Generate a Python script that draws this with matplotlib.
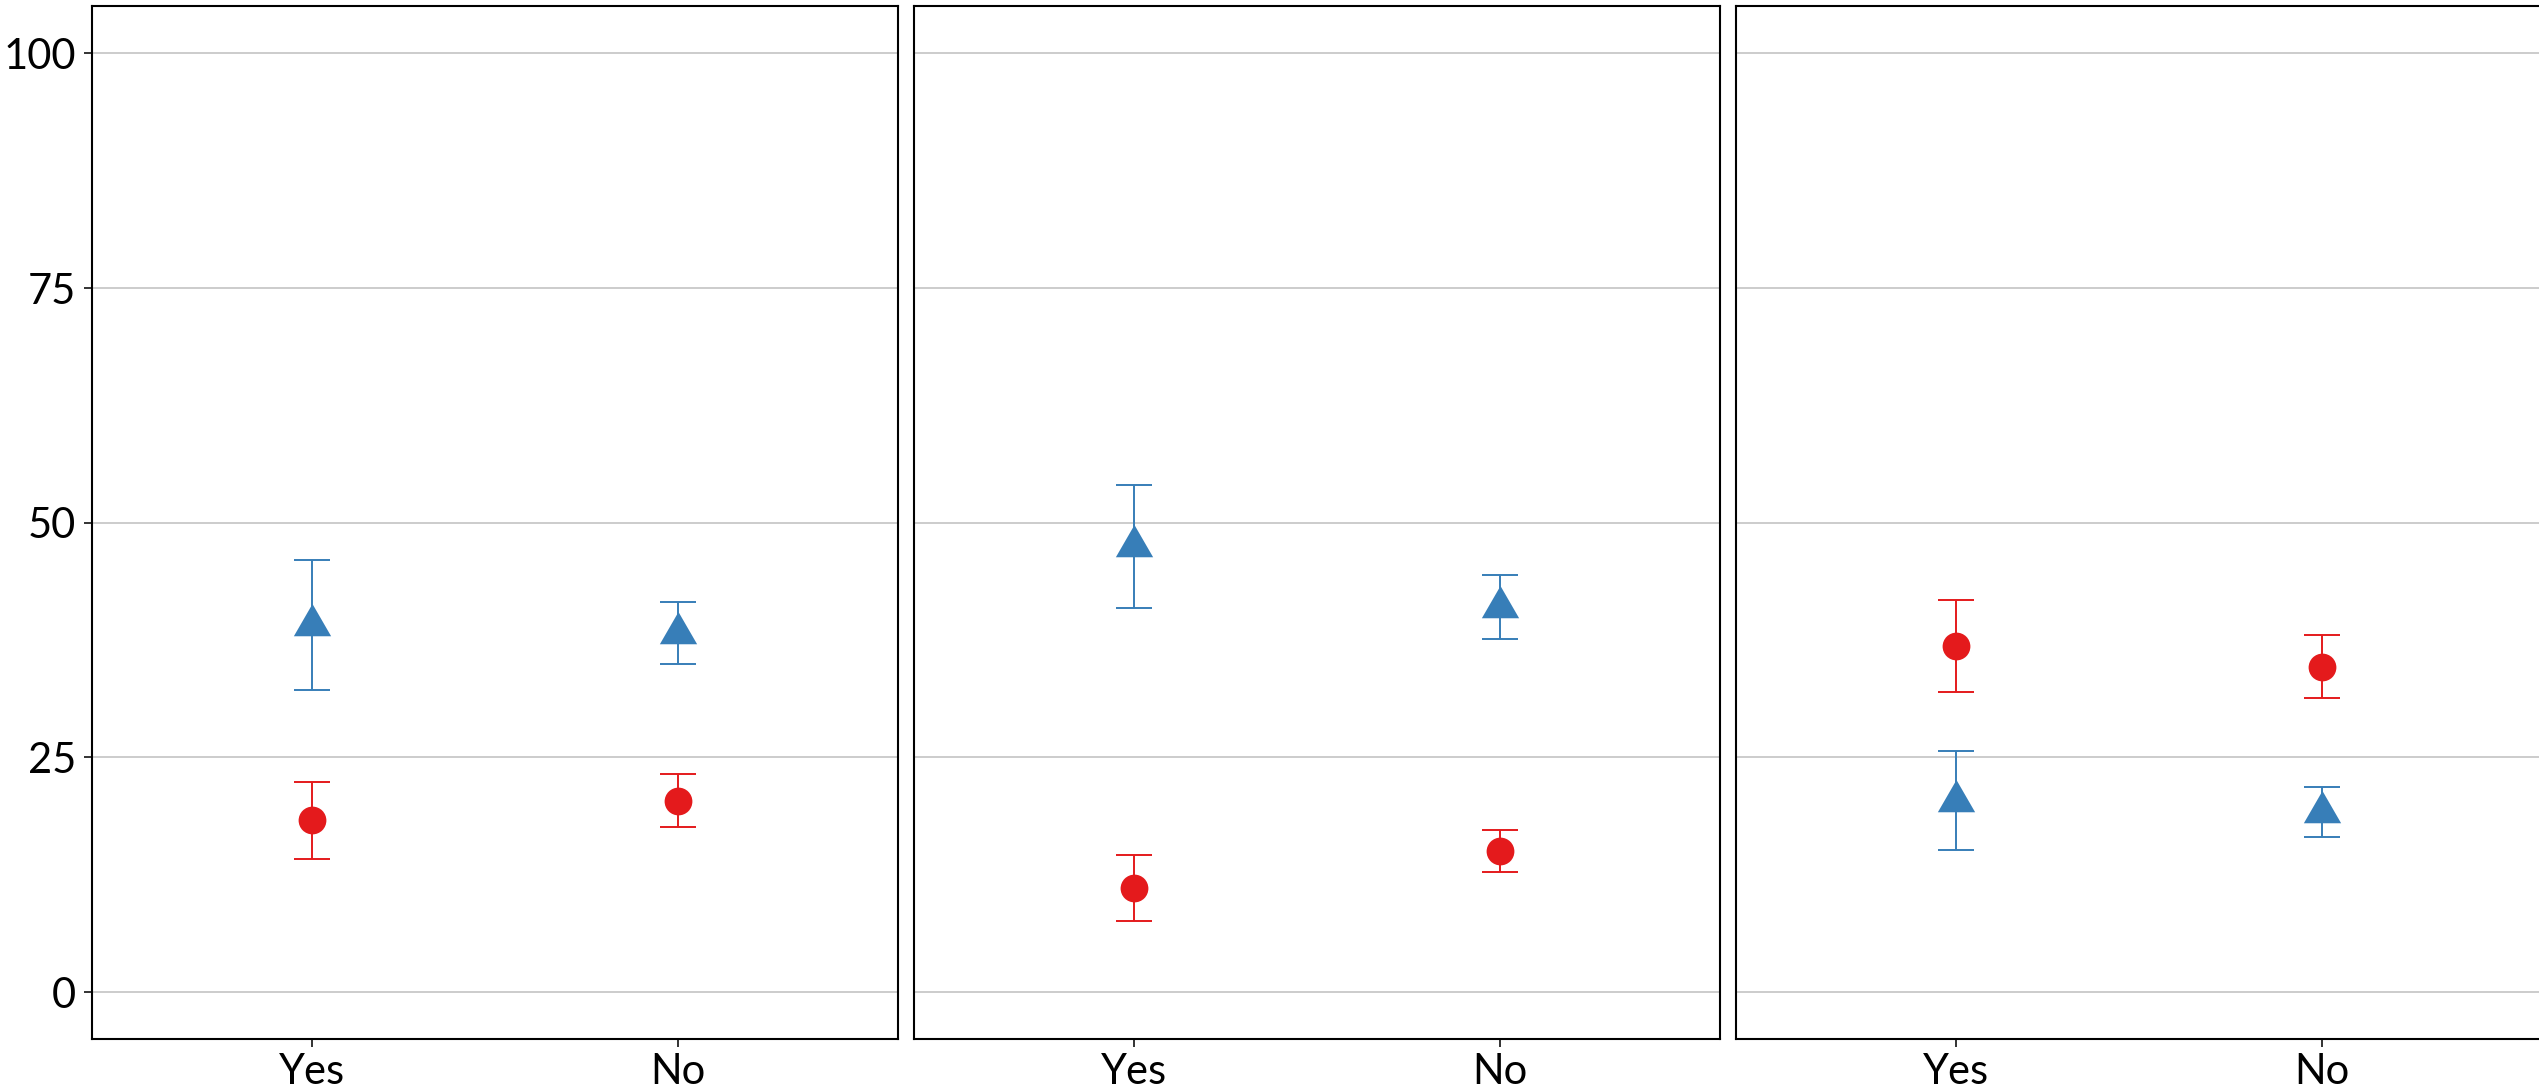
import matplotlib

matplotlib.use("Agg")
import matplotlib.pyplot as plt
import numpy as np
from matplotlib.path import Path

plt.rcParams["font.family"] = ["Lato", "DejaVu Sans"]

# data: three panels, two groups (Yes / No), two series with symmetric CIs
categories = ["Yes", "No"]
red_mean = [[18.3, 20.4], [11.1, 15.0], [36.9, 34.65]]
red_ci = [[4.1, 2.8], [3.55, 2.25], [4.9, 3.35]]
blue_mean = [[39.1, 38.3], [47.5, 41.0], [20.4, 19.15]]
blue_ci = [[6.9, 3.3], [6.55, 3.4], [5.3, 2.65]]
y_ticks = [0, 25, 50, 75, 100]

RED = "#E41A1C"
BLUE = "#377EB8"

# triangle centred on its centroid, like R's pch 17
tri = Path([(0, 1), (-0.866, -0.5), (0.866, -0.5), (0, 1)],
           [Path.MOVETO, Path.LINETO, Path.LINETO, Path.CLOSEPOLY])

fig = plt.figure(figsize=(25.39, 10.91), dpi=100)
W, H = 2539, 1091
left0, pw, gap = 92, 806, 16
bottom = (H - 1039) / H
height = (1039 - 6.4) / H

x = np.arange(1, len(categories) + 1)
for i in range(3):
    ax = fig.add_axes([(left0 + i * (pw + gap)) / W, bottom, pw / W, height])
    ax.set_xlim(0.4, 2.6)
    ax.set_ylim(-5, 105)
    ax.set_yticks(y_ticks)
    ax.grid(axis="y", color="#c8c8c8", lw=1.3, zorder=0)
    ax.set_axisbelow(True)
    for s in ax.spines.values():
        s.set_color("black")
        s.set_linewidth(1.5)

    ax.errorbar(x, blue_mean[i], yerr=blue_ci[i], fmt="none", ecolor=BLUE,
                elinewidth=1.4, capsize=13.2, capthick=1.4, zorder=3)
    ax.plot(x, blue_mean[i], ls="none", marker=tri, ms=31, color=BLUE,
            mec="none", zorder=4)
    ax.errorbar(x, red_mean[i], yerr=red_ci[i], fmt="none", ecolor=RED,
                elinewidth=1.4, capsize=13.2, capthick=1.4, zorder=3)
    ax.plot(x, red_mean[i], ls="none", marker="o", ms=20, color=RED,
            mec="none", zorder=4)

    ax.set_xticks(x)
    ax.set_xticklabels(categories)
    ax.tick_params(axis="both", length=5.8, width=1.4, color="#333333",
                   labelsize=30, labelcolor="black", pad=4.5)
    if i == 0:
        ax.tick_params(axis="y", pad=5.5)
    else:
        ax.tick_params(axis="y", left=False, labelleft=False)

fig.savefig("out.png", dpi=100)
